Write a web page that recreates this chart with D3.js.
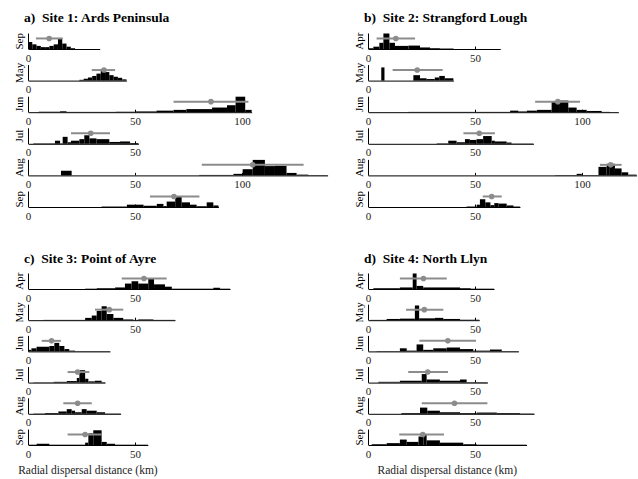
<!DOCTYPE html>
<html>
<head>
<meta charset="utf-8">
<script src="https://cdn.jsdelivr.net/npm/d3@7"></script>
<style>
  body { margin: 0; background: #fff; }
  text { font-family: "Liberation Serif", "DejaVu Serif", serif; }
</style>
</head>
<body>
<div id="chart"></div>
<script>
// panel titles and month of each row, top to bottom
const titles = ["a)  Site 1: Ards Peninsula", "b)  Site 2: Strangford Lough",
                "c)  Site 3: Point of Ayre", "d)  Site 4: North Llyn"];
const months = [
    ["Sep", "May", "Jun", "Jul", "Aug", "Sep"],
    ["Apr", "May", "Jun", "Jul", "Aug", "Sep"],
    ["Apr", "May", "Jun", "Jul", "Aug", "Sep"],
    ["Apr", "May", "Jun", "Jul", "Aug", "Sep"]
];
// x-axis extent of each row (km)
const xMax = [
    [33.5, 46, 104.5, 51.6, 140, 89],
    [61.8, 39.9, 117, 77.3, 125.5, 71],
    [94.4, 68.7, 38.3, 36, 43.3, 56],
    [58.9, 52, 70.3, 55.8, 77.6, 74.1]
];
// mean dispersal distance and spread (grey marker + bar)
const means = [
    [9.9, 35.5, 85.5, 29.3, 105, 68.2],
    [13, 23, 88.7, 52, 113.4, 57.8],
    [54.2, 38, 11, 23.2, 23.2, 26.7],
    [25.9, 26.3, 37.3, 27.9, 40.4, 25.6]
];
const errLo = [
    [3.7, 29.8, 68, 20.1, 81.2, 57],
    [4, 11.5, 78.1, 44.6, 108.4, 53.6],
    [43.8, 31.3, 6.4, 18.5, 16.5, 18.5],
    [14.9, 17.8, 24, 18.8, 25.1, 14.6]
];
const errHi = [
    [16.2, 40.7, 103, 38.3, 128.8, 80.1],
    [22, 34.9, 99.1, 59.3, 118.5, 62.5],
    [64.8, 44.5, 15.4, 28.7, 29.8, 34.4],
    [36.8, 35.2, 50.5, 37.4, 55.8, 35.5]
];
// histogram bins [from km, to km, relative frequency]
const hists = [
  [
    [[0,2,.45],[2,4,.3],[4,6,.2],[6,8,.12],[8,10,.12],[10,12,.2],[12,14,.3],[14,16,.7],[16,18,.35],[18,20,.15],[20,22,.05]],
    [[24,26,.05],[26,28,.12],[28,30,.2],[30,32,.3],[32,34,.45],[34,36,.75],[36,38,.55],[38,40,.35],[40,42,.25],[42,44,.18],[44,46,.08]],
    [[5,15,.03],[15,18,.06],[18,41,.02],[41,50,.03],[50,60,.05],[60,68,.1],[68,74,.15],[74,86,.2],[86,93,.3],[93,97,.45],[97,101.5,1],[101.5,104.5,.15]],
    [[2.5,12.6,.03],[12.6,15,.2],[15,16.2,.03],[16.2,18.5,.45],[18.5,20.1,.1],[20.1,24,.2],[24,26.3,.3],[26.3,28.7,.55],[28.7,32,.35],[32,38,.3],[38,43,.12],[43,47.7,.15],[47.7,51.6,.05]],
    [[15.4,20.4,.3],[80,96,.03],[96,100.3,.1],[100.3,105,.4],[105,110.7,1],[110.7,115.4,.6],[115.4,120.8,.62],[120.8,125.5,.16],[125.5,131,.05],[131,140,.02]],
    [[34.4,46.2,.03],[46.2,54,.15],[54,60.2,.08],[60.2,63.3,.2],[63.3,64.8,.06],[64.8,68.8,.35],[68.8,71.8,.65],[71.8,75.7,.3],[75.7,78.8,.15],[78.8,83.5,.05],[83.5,86.6,.3],[86.6,89,.1]]
  ],
  [
    [[0,2.5,.05],[2.5,5.3,.15],[5.3,7.2,.4],[7.2,10,1],[10,12.6,.4],[12.6,18.9,.2],[18.9,24.3,.22],[24.3,29,.1],[29,33.6,.05],[33.6,40,.03]],
    [[6.2,7.7,.85],[21.2,24.3,.35],[24.3,27.4,.15],[27.4,31.2,.1],[31.2,33.3,.2],[33.3,35.9,.3],[35.9,39.9,.15]],
    [[18.9,66.4,.02],[66.4,70.3,.1],[70.3,74.2,.05],[74.2,78.9,.1],[78.9,85.8,.15],[85.8,89.7,.68],[89.7,93.6,.75],[93.6,97.5,.3],[97.5,102.2,.15],[102.2,109.2,.08],[109.2,113,.02]],
    [[32.1,37.5,.03],[37.5,41.4,.2],[41.4,45.3,.1],[45.3,47.6,.3],[47.6,50.7,.25],[50.7,53.8,.3],[53.8,57.8,.5],[57.8,59.3,.2],[59.3,64.8,.15],[64.8,67.1,.08],[67.1,77.3,.02]],
    [[87.4,97.5,.02],[97.5,99.9,.1],[99.9,107.7,.02],[107.7,111.5,.55],[111.5,113,.75],[113,115.4,.75],[115.4,118.5,.45],[118.5,121.6,.2],[121.6,125.5,.05]],
    [[46.1,50.8,.03],[50.8,52.3,.15],[52.3,54.8,.5],[54.8,57.2,.3],[57.2,59,.12],[59,61,.25],[61,64.8,.22],[64.8,68,.1],[68,71,.03]]
  ],
  [
    [[26.7,32.1,.02],[32.1,40.7,.05],[40.7,45.3,.1],[45.3,48.4,.35],[48.4,51.5,.5],[51.5,56.2,.35],[56.2,58.9,.65],[58.9,64,.3],[64,67.2,.15],[67.2,86.6,.02],[86.6,89.7,.08],[89.7,94.4,.02]],
    [[7.2,26.7,.02],[26.7,29.8,.15],[29.8,32.1,.3],[32.1,34.4,.6],[34.4,36.8,.9],[36.8,39.9,.4],[39.9,44.5,.15],[44.5,49.2,.05],[49.2,51.5,.02],[51.5,58.6,.05],[58.6,68.7,.02]],
    [[0,1.6,.1],[1.6,4,.2],[4,10,.3],[10,12.3,.35],[12.3,14.6,.55],[14.6,17,.35],[17,19.3,.15],[19.3,22,.05],[22,38.3,.02]],
    [[2.5,12,.02],[12,18.1,.05],[18.1,22.8,.1],[22.8,24,.3],[24,26.7,.8],[26.7,28.2,.25],[28.2,31.2,.08],[31.2,34.4,.12],[34.4,36,.03]],
    [[2.5,7.9,.02],[7.9,14.2,.05],[14.2,18.1,.15],[18.1,20.4,.3],[20.4,22,.2],[22,25.1,.1],[25.1,27.4,.3],[27.4,32.1,.2],[32.1,36,.1],[36,43.3,.02]],
    [[0,4,.02],[4,10,.08],[10,26.7,.02],[26.7,28.2,.15],[28.2,30.5,.75],[30.5,34.4,.95],[34.4,36.8,.2],[36.8,40.7,.08],[40.7,56,.02]]
  ],
  [
    [[2.5,14.9,.05],[14.9,20.9,.1],[20.9,22.7,1],[22.7,25.8,.2],[25.8,43,.1],[43,48,.05],[48,58.9,.02]],
    [[1,8.7,.02],[8.7,14.9,.08],[14.9,21.9,.1],[21.9,23.9,.95],[23.9,31.3,.12],[31.3,35.2,.15],[35.2,43,.08],[43,52,.03]],
    [[4,14.9,.02],[14.9,18.1,.2],[18.1,22.7,.05],[22.7,25.8,.45],[25.8,30.5,.1],[30.5,36.8,.2],[36.8,43,.25],[43,49.2,.15],[49.2,57,.05],[57,62.5,.12],[62.5,70.3,.02]],
    [[4.8,14.9,.05],[14.9,25.1,.12],[25.1,27.4,.55],[27.4,33.6,.2],[33.6,43,.12],[43,46.1,.2],[46.1,55.8,.03]],
    [[15.6,24.3,.05],[24.3,27.7,.4],[27.7,33.6,.2],[33.6,43,.1],[43,50.8,.05],[50.8,60.2,.08],[60.2,71,.05],[71,77.6,.02]],
    [[1.7,8.7,.05],[8.7,14.9,.12],[14.9,18.1,.35],[18.1,23.6,.2],[23.6,25.9,.55],[25.9,27.4,.7],[27.4,33.6,.3],[33.6,44.5,.15],[44.5,50.8,.05],[50.8,74.1,.02]]
  ]
];
const xTicks = [0, 50, 100];

const width = 638, height = 479;
const kmPx = 2.14;          // same km scale in every row
const axH = 15.5;           // height of each little axes
const errLevel = 0.68;      // height of the mean marker within an axes
const serif = "'Liberation Serif', 'DejaVu Serif', serif";

const svg = d3.select("#chart").append("svg")
    .attr("width", width)
    .attr("height", height)
    .style("background", "#fff");

const panelX = [28, 368, 28, 368];
const panelBase = [49, 49, 289, 289];
const panelStep = [31.6, 31.6, 31.2, 31.2];
const titleY = [22, 22, 263, 263];

titles.forEach((title, p) => {
    const ox = panelX[p];

    svg.append("text")
        .attr("x", ox - 4)
        .attr("y", titleY[p])
        .attr("xml:space", "preserve")
        .style("white-space", "pre")
        .style("font-family", serif)
        .style("font-size", "13.5px")
        .style("font-weight", "bold")
        .text(title);

    months[p].forEach((month, r) => {
        const base = panelBase[p] + r * panelStep[p];
        const x = d3.scaleLinear()
            .domain([0, xMax[p][r]])
            .range([ox, ox + xMax[p][r] * kmPx]);
        const y = d3.scaleLinear()
            .domain([0, 1])
            .range([base, base - axH]);

        const g = svg.append("g");

        g.selectAll("rect.bin")
            .data(hists[p][r])
            .enter()
            .append("rect")
            .attr("class", "bin")
            .attr("x", d => x(d[0]))
            .attr("y", d => y(d[2]))
            .attr("width", d => x(d[1]) - x(d[0]))
            .attr("height", d => y(0) - y(d[2]))
            .style("fill", "#000");

        // x axis with inward ticks
        const ax = g.append("g")
            .attr("transform", `translate(0,${base})`)
            .call(d3.axisBottom(x)
                .tickValues(xTicks.filter(v => v <= xMax[p][r]))
                .tickSizeInner(-2.5)
                .tickSizeOuter(0)
                .tickPadding(4.7));
        ax.attr("font-family", null);
        ax.select(".domain").attr("stroke", "#000");
        ax.selectAll(".tick line").attr("stroke", "#000");
        ax.selectAll(".tick text")
            .style("font-family", serif)
            .style("font-size", "11px")
            .attr("fill", "#222");

        // y axis line
        g.append("line")
            .attr("x1", ox + 0.5).attr("x2", ox + 0.5)
            .attr("y1", y(0)).attr("y2", y(1))
            .attr("stroke", "#000")
            .attr("stroke-width", 1);

        // mean +/- spread
        g.append("line")
            .attr("x1", x(errLo[p][r])).attr("x2", x(errHi[p][r]))
            .attr("y1", y(errLevel)).attr("y2", y(errLevel))
            .attr("stroke", "#8c8c8c")
            .attr("stroke-width", 2);
        g.append("circle")
            .attr("cx", x(means[p][r]))
            .attr("cy", y(errLevel))
            .attr("r", 2.8)
            .attr("fill", "#8c8c8c");

        g.append("text")
            .attr("transform", `translate(${ox - 5},${base - axH / 2}) rotate(-90)`)
            .attr("text-anchor", "middle")
            .style("font-family", serif)
            .style("font-size", "11px")
            .text(month);

        // x label under the last row of the lower panels
        if (p >= 2 && r === months[p].length - 1) {
            svg.append("text")
                .attr("x", (x.range()[0] + x.range()[1]) / 2)
                .attr("y", 474)
                .attr("text-anchor", "middle")
                .style("font-family", serif)
                .style("font-size", "11.5px")
                .attr("fill", "#222")
                .text("Radial dispersal distance (km)");
        }
    });
});
</script>
</body>
</html>
